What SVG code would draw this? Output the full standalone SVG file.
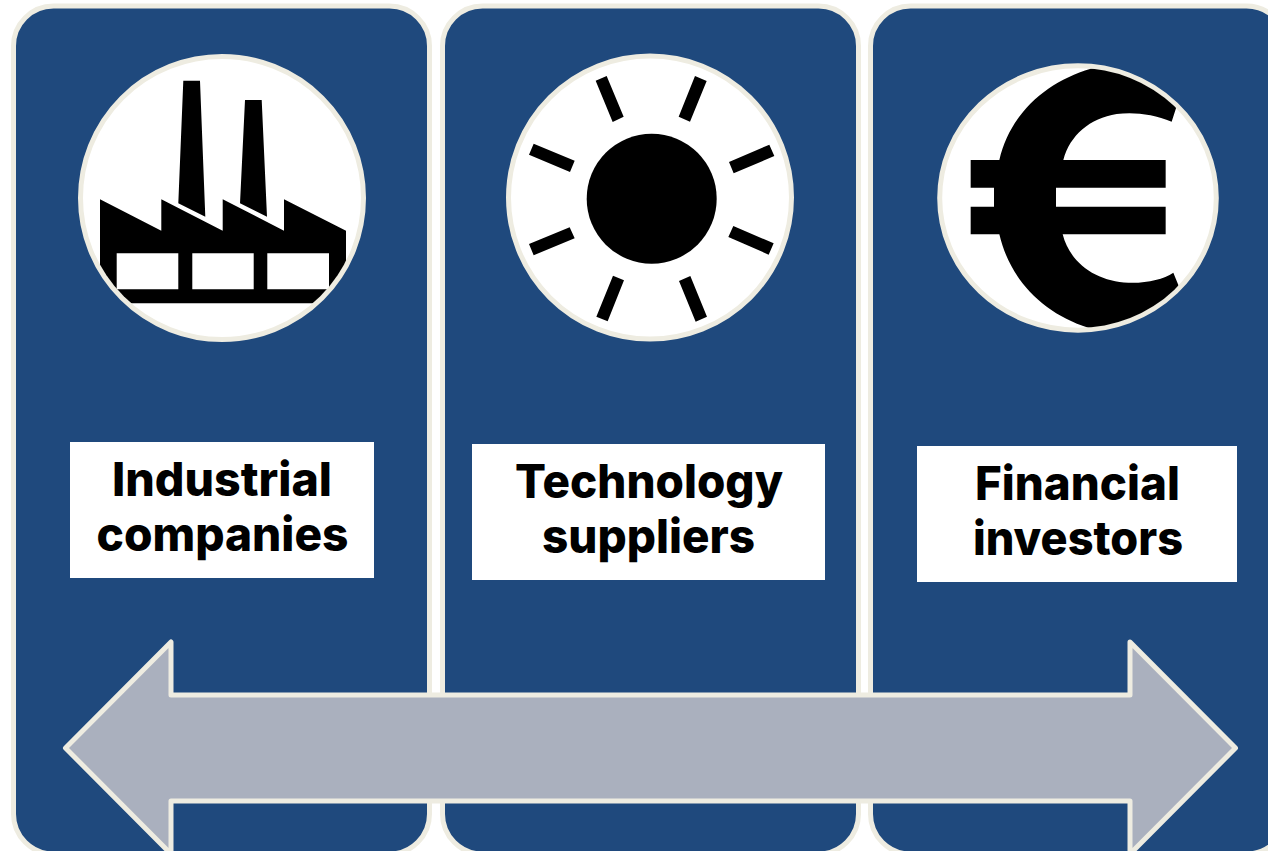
<svg xmlns="http://www.w3.org/2000/svg" width="1268" height="851" viewBox="0 0 1268 851">
<style>
.panel{fill:#1F497D;stroke:#EEECE1;stroke-width:5}
.disc{fill:#fff;stroke:#EEECE1;stroke-width:5}
.lab{fill:#fff}
.t{font-family:"Inter","Liberation Sans",sans-serif;font-weight:800;font-size:47px;fill:#000;text-anchor:middle}
</style>
<defs>
<clipPath id="c1"><circle cx="222" cy="198" r="139"/></clipPath>
<clipPath id="c3"><ellipse cx="1078" cy="198" rx="136" ry="130"/></clipPath>
</defs>
<rect width="1268" height="851" fill="#fff"/>
<g id="industrial">
<rect class="panel" x="13.5" y="6" width="416" height="848" rx="40"/>
<circle class="disc" cx="222" cy="198" r="141.5"/>
<g clip-path="url(#c1)">
<path fill-rule="evenodd" d="M100 199.3L161.3 230.7V199.3L222.7 230.7V199.3L284 230.7V199.3L346 230.7V303.3H100ZM116.7 253.3V289.3H178.3V253.3ZM192.3 253.3V289.3H253.7V253.3ZM267.3 253.3V289.3H329V253.3Z"/>
<path d="M183.3 80.7H200L205.3 216.7L178.3 203.3ZM245 100H261.7L267 216.7L240 203.3Z"/>
</g>
<rect class="lab" x="70" y="442" width="304" height="136"/>
<text class="t" x="222" y="495.5" textLength="220" lengthAdjust="spacingAndGlyphs">Industrial</text>
<text class="t" x="222.5" y="550.5" textLength="252" lengthAdjust="spacingAndGlyphs">companies</text>
</g>
<g id="technology">
<rect class="panel" x="442.5" y="6" width="416" height="848" rx="40"/>
<circle class="disc" cx="650" cy="197.6" r="141.5"/>
<circle cx="651.7" cy="198.7" r="65"/>
<g transform="translate(500 45) scale(.33333)">
<path d="M287 107L320 93L371 215L338 231ZM585 93L620 108L570 230L536 215ZM808 299L823 333L701 385L687 351ZM685 576L700 543L821 595L806 629ZM621 815L587 830L537 708L571 693ZM372 706L323 829L289 815L339 692ZM87 597L209 547L224 580L101 631ZM87 329L101 296L224 347L210 381Z"/>
</g>
<rect class="lab" x="472" y="444" width="353" height="136"/>
<text class="t" x="649" y="497.5" textLength="268" lengthAdjust="spacingAndGlyphs">Technology</text>
<text class="t" x="648.5" y="552.5" textLength="213" lengthAdjust="spacingAndGlyphs">suppliers</text>
</g>
<g id="financial">
<rect class="panel" x="870.5" y="6" width="416" height="848" rx="40"/>
<ellipse class="disc" cx="1078" cy="198" rx="138.3" ry="132.2"/>
<g clip-path="url(#c3)">
<g transform="translate(920 50) scale(.33333)">
<path d="M512 56L800 50L768 175L755 215C700 192 640 185 590 192C510 205 450 255 430 330H737V413H408V470H737V553H428C450 640 530 695 625 698C680 700 730 688 760 668L775 705L800 850L505 833C370 790 270 690 238 553H152V470H222V413H152V330H238C270 190 380 95 512 56Z"/>
</g>
</g>
<rect class="lab" x="917" y="446" width="320" height="136"/>
<text class="t" x="1077.5" y="499.5" textLength="205" lengthAdjust="spacingAndGlyphs">Financial</text>
<text class="t" x="1078" y="554.5" textLength="210" lengthAdjust="spacingAndGlyphs">investors</text>
</g>
<g id="connectors">
<path d="M65.500 748L171 642V695H1130V642L1235.500 748L1130 854V801H171V854Z" fill="#AAB0BE" stroke="#EEECE1" stroke-width="5" stroke-linejoin="round"/>
</g>
</svg>
